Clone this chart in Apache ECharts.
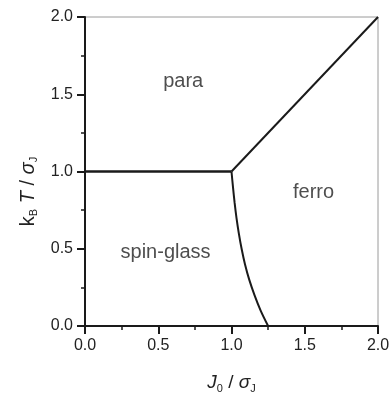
<!DOCTYPE html>
<html>
<head>
<meta charset="utf-8">
<script src="https://cdn.jsdelivr.net/npm/echarts@6/dist/echarts.min.js"></script>
<style>
  html, body { margin: 0; padding: 0; background: #fff; }
  #chart { width: 389px; height: 395px; }
</style>
</head>
<body>
<div id="chart"></div>
<script>
// Phase boundaries of the spin-glass model (J0/sigma_J vs kB T/sigma_J)
const paraSgLine = [[0, 1], [1, 1]];
const paraFerroLine = [[1, 1], [2, 2]];
const sgFerroLine = [
  [1.000, 1.0], [1.010, 0.9], [1.021, 0.8], [1.034, 0.7], [1.050, 0.6], [1.069, 0.5],
  [1.092, 0.4], [1.121, 0.3], [1.157, 0.2], [1.199, 0.1], [1.250, 0.0]
];

// Region names and where they sit in data coordinates
const regionNames = ['para', 'spin-glass', 'ferro'];
const regionSpots = [[0.67, 1.58], [0.55, 0.475], [1.56, 0.865]];

const axisTicks = [0, 0.5, 1.0, 1.5, 2.0];

const FONT = '"Liberation Sans", Arial, sans-serif';
const INK = '#1a1a1a';

const chart = echarts.init(document.getElementById('chart'), null, { renderer: 'canvas' });

const lineStyle = { color: INK, width: 2 };

function axisBase() {
  return {
    type: 'value',
    min: 0,
    max: 2,
    interval: 0.5,
    axisLine: { show: true, onZero: false, lineStyle: { color: INK, width: 2 } },
    axisTick: { show: true, inside: false, length: 8, lineStyle: { color: INK, width: 2 } },
    minorTick: { show: true, splitNumber: 2, length: 4, lineStyle: { color: INK, width: 1.5 } },
    splitLine: { show: false },
    axisLabel: {
      fontFamily: FONT, fontSize: 16, color: '#222', margin: 12,
      formatter: v => axisTicks.includes(v) ? v.toFixed(1) : ''
    }
  };
}

function richSet(size) {
  return {
    i: { fontFamily: FONT, fontSize: size, fontStyle: 'italic', color: '#222', lineHeight: 22 },
    n: { fontFamily: FONT, fontSize: size, color: '#222', lineHeight: 22 },
    s: { fontFamily: FONT, fontSize: 11, color: '#222', verticalAlign: 'bottom', padding: [6, 0, 0, 0], lineHeight: 22 }
  };
}

const xAxis = Object.assign(axisBase(), {
  name: '{i|J}{s|0}{n| / }{i|σ}{s|J}',
  nameLocation: 'middle',
  nameGap: 46,
  nameTextStyle: { rich: richSet(19) }
});

const yAxis = Object.assign(axisBase(), {
  name: '{n|k}{s|B}{n| }{i|T}{n| / }{i|σ}{s|J}',
  nameLocation: 'middle',
  nameGap: 46,
  nameRotate: 90,
  nameTextStyle: { rich: richSet(20), padding: [0, 40, 0, 0] }
});

const option = {
  animation: false,
  backgroundColor: '#fff',
  grid: {
    left: 85, right: 11, top: 17, bottom: 69,
    outerBoundsMode: 'none', containLabel: false,
    show: true, borderColor: '#9a9a9a', borderWidth: 1, backgroundColor: 'transparent'
  },
  xAxis: xAxis,
  yAxis: yAxis,
  series: [
    { type: 'line', data: paraSgLine, showSymbol: false, lineStyle: Object.assign({}, lineStyle, { width: 2.5 }) },
    { type: 'line', data: paraFerroLine, showSymbol: false, lineStyle: lineStyle },
    { type: 'line', data: sgFerroLine, smooth: 0.3, showSymbol: false, lineStyle: lineStyle },
    {
      type: 'scatter',
      symbolSize: 0,
      data: regionSpots.map((p, k) => ({ value: p, name: regionNames[k] })),
      label: {
        show: true, position: 'inside', formatter: '{b}',
        fontFamily: FONT, fontSize: 20, color: '#222'
      },
      silent: true
    }
  ]
};

chart.setOption(option);
</script>
</body>
</html>
